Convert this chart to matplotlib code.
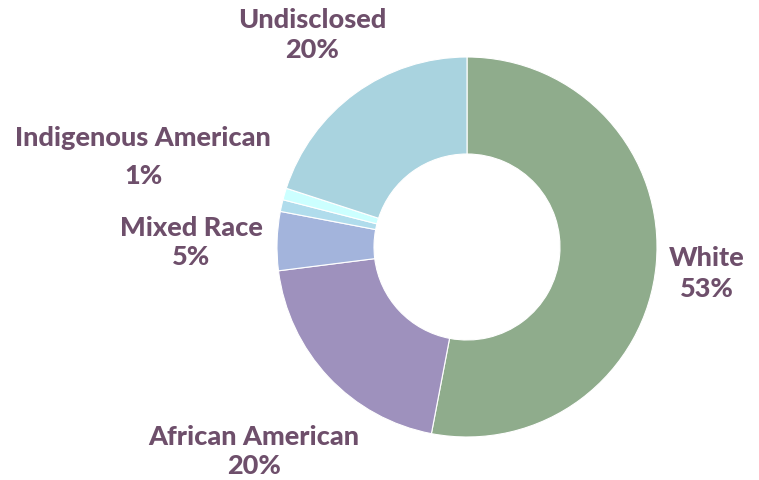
import matplotlib.pyplot as plt

categories = ["White", "African American", "Mixed Race", "Other", "Indigenous American", "Undisclosed"]
values = [53, 20, 5, 1, 1, 20]
colors = ["#8fac8c", "#9e91bd", "#a3b4dc", "#b0dcec", "#ccffff", "#a9d3df"]
pct_labels = ["53%", "20%", "5%", "", "1%", "20%"]

TEXT_CLR = "#6e4f6b"
W, H = 759, 481

fig = plt.figure(figsize=(W / 100, H / 100), dpi=100)
ax = fig.add_axes([0, 0, 1, 1])

cx, cy, r = 467, H - 248, 190
ax.pie(values, colors=colors, startangle=90, counterclock=False,
       radius=r, center=(cx, cy), frame=True,
       wedgeprops=dict(width=r - 93, edgecolor="white", linewidth=0.8))
ax.set_xlim(0, W)
ax.set_ylim(0, H)
ax.set_aspect("equal")
ax.axis("off")

font = dict(family=["Lato", "DejaVu Sans"], fontweight=900, fontsize=19.5,
            color=TEXT_CLR, ha="center", va="center")

# label positions (pixels from top-left)
label_pos = {
    "White": ((707, 258), (707, 289)),
    "African American": ((254, 437), (254, 466)),
    "Mixed Race": ((191, 228), (191, 257)),
    "Indigenous American": ((143, 138), (143, 176)),
    "Undisclosed": ((312, 20), (312, 50)),
}
for cat, pct in zip(categories, pct_labels):
    if cat not in label_pos:
        continue
    (nx, ny), (px, py) = label_pos[cat]
    ax.text(nx, H - ny, cat, **font)
    ax.text(px, H - py, pct, **font)

fig.savefig("out.png", dpi=100)
